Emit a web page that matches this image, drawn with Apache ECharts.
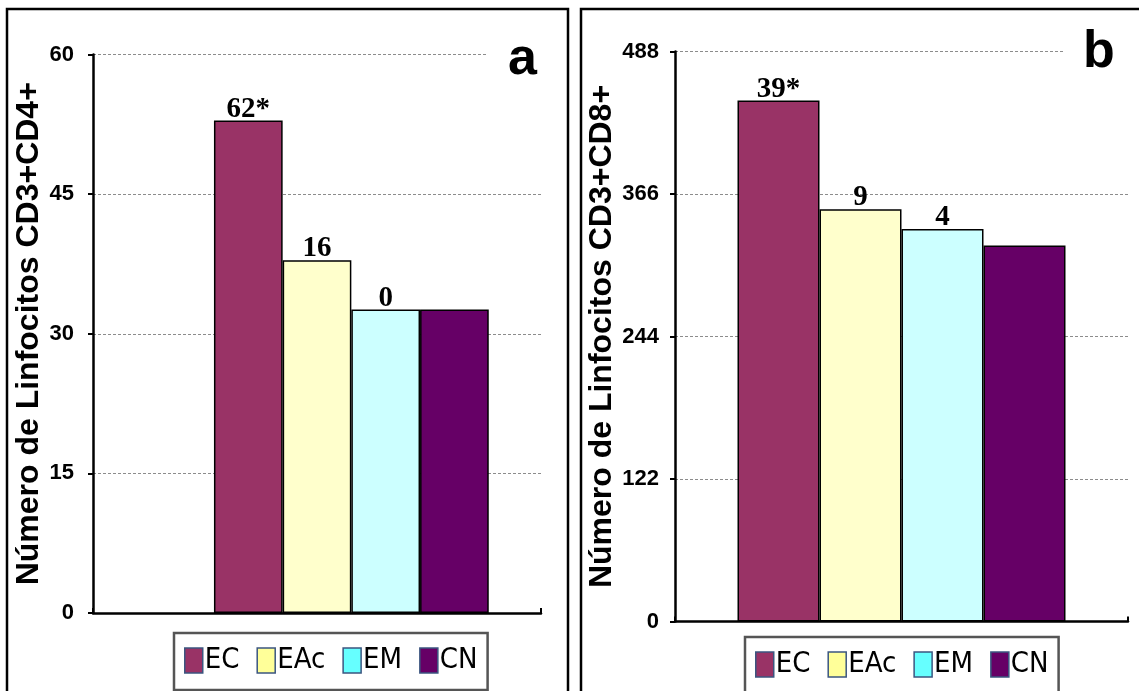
<!DOCTYPE html>
<html>
<head>
<meta charset="utf-8">
<script src="https://cdn.jsdelivr.net/npm/echarts@6/dist/echarts.min.js"></script>
<style>
  html, body { margin: 0; padding: 0; background: #fff; }
  #chart { width: 1139px; height: 691px; }
</style>
</head>
<body>
<div id="chart"></div>
<script>
// Study groups and their colours
const groups = ['EC', 'EAc', 'EM', 'CN'];
const barColors = ['#993366', '#FFFFCC', '#CCFFFF', '#660066'];
const legendColors = ['#993366', '#FFFF99', '#66FFFF', '#660066'];

// Panel a: CD3+CD4+ lymphocytes, with % difference vs CN above each bar
const cd4Values = [52.9, 37.9, 32.6, 32.6];
const cd4Labels = ['62*', '16', '0', ''];
const cd4Axis = { min: 0, max: 60, interval: 15 };

// Panel b: CD3+CD8+ lymphocytes
const cd8Values = [446, 353, 336, 322];
const cd8Labels = ['39*', '9', '4', ''];
const cd8Axis = { min: 0, max: 488, interval: 122 };

const category = ['Linfocitos'];

const chart = echarts.init(document.getElementById('chart'));

const axisFont = { fontFamily: 'Liberation Sans, Arial, sans-serif', fontWeight: 'bold', color: '#000' };

function yAxisFor(ticks, gridIndex, title, gap, labelMargin) {
  return {
    type: 'value', gridIndex: gridIndex,
    min: ticks.min, max: ticks.max, interval: ticks.interval,
    name: title, nameLocation: 'middle', nameGap: gap,
    nameTextStyle: Object.assign({ fontSize: 32 }, axisFont),
    axisLine: { show: true, lineStyle: { color: '#000', width: 2.5 } },
    axisTick: { show: true, length: 5, lineStyle: { color: '#000', width: 2 } },
    axisLabel: Object.assign({ fontSize: 22, margin: labelMargin }, axisFont),
    splitLine: { show: true, lineStyle: { color: '#8c8c8c', width: 1, type: [3, 2] } }
  };
}

function xAxisFor(gridIndex) {
  return {
    type: 'category', gridIndex: gridIndex, data: category,
    axisLine: { show: true, lineStyle: { color: '#000', width: 2.5 } },
    axisTick: { show: true, inside: true, length: 5, lineStyle: { color: '#000', width: 2 } },
    axisLabel: { show: false }
  };
}

function barSeries(values, labels, axisIndex, width) {
  return groups.map((g, i) => ({
    name: g, type: 'bar',
    xAxisIndex: axisIndex, yAxisIndex: axisIndex,
    barWidth: width, barGap: '0%',
    data: [values[i]],
    itemStyle: { color: barColors[i], borderColor: '#000', borderWidth: 1.5 },
    label: {
      show: labels[i] !== '', position: 'top', distance: -3,
      formatter: labels[i],
      fontFamily: 'Liberation Serif, Times New Roman, serif',
      fontWeight: 'bold', fontSize: 29, color: '#000'
    },
    emphasis: { disabled: true }
  }));
}

function legendFor(left, top) {
  return {
    left: left, top: top,
    orient: 'horizontal',
    padding: [13, 10, 15, 10],
    itemGap: 17, itemWidth: 18, itemHeight: 25,
    borderColor: '#555', borderWidth: 2.5, backgroundColor: '#fff',
    selectedMode: false,
    textStyle: { fontFamily: 'DejaVu Sans Condensed, Liberation Sans Narrow, Liberation Sans, Arial, sans-serif', fontSize: 29, color: '#000', padding: [0, 0, 0, -3] },
    data: groups.map((g, i) => ({
      name: g, icon: 'rect',
      itemStyle: { color: legendColors[i], borderColor: '#3b5680', borderWidth: 1.5 }
    }))
  };
}

// empty leading slot keeps panel a's bars right of centre
const leadSlot = {
  name: '', type: 'bar', xAxisIndex: 0, yAxisIndex: 0,
  barWidth: 68.7, barGap: '0%', data: [null], silent: true
};

chart.setOption({
  animation: false,
  backgroundColor: '#fff',
  title: [
    { text: 'a', left: 488, top: 34, padding: [0, 20], backgroundColor: '#fff',
      textStyle: { fontFamily: 'Liberation Sans, Arial, sans-serif', fontWeight: 'bold', fontSize: 52, color: '#000' } },
    { text: 'b', left: 1063, top: 27, padding: [0, 20], backgroundColor: '#fff',
      textStyle: { fontFamily: 'Liberation Sans, Arial, sans-serif', fontWeight: 'bold', fontSize: 52, color: '#000' } }
  ],
  grid: [
    { left: 93, right: 598, top: 54.5, bottom: 78 },
    { left: 675, right: 11, top: 51.5, bottom: 69.5 }
  ],
  xAxis: [xAxisFor(0), xAxisFor(1)],
  yAxis: [
    yAxisFor(cd4Axis, 0, 'Número de Linfocitos CD3+CD4+', 44, 19),
    yAxisFor(cd8Axis, 1, 'Número de Linfocitos CD3+CD8+', 52, 16)
  ],
  legend: [legendFor(174, 633), legendFor(745, 637)],
  graphic: [
    { type: 'rect', silent: true, z: 100, shape: { x: 7, y: 9, width: 561, height: 720 },
      style: { fill: 'none', stroke: '#000', lineWidth: 2.5 } },
    { type: 'rect', silent: true, z: 100, shape: { x: 581, y: 9, width: 620, height: 720 },
      style: { fill: 'none', stroke: '#000', lineWidth: 2.5 } }
  ],
  series: [leadSlot]
    .concat(barSeries(cd4Values, cd4Labels, 0, 68.7))
    .concat(barSeries(cd8Values, cd8Labels, 1, 82))
});
</script>
</body>
</html>
